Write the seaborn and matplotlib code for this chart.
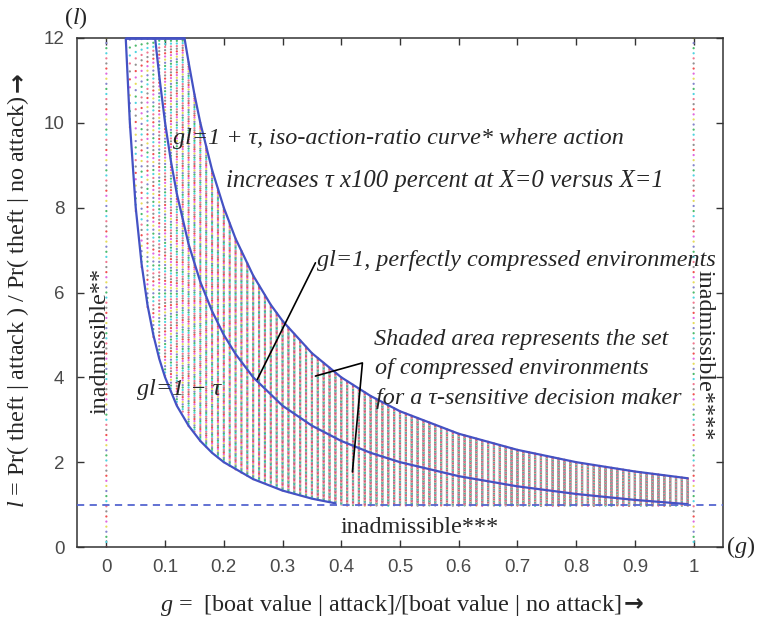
import numpy as np
import pandas as pd
import matplotlib
matplotlib.use("Agg")
import matplotlib.pyplot as plt
import seaborn as sns

# ---------------- data ----------------
tau = 0.6
# lower curve gl = 1 - tau
g_low = [0.033, 0.04, 0.05, 0.06, 0.07, 0.08, 0.09, 0.10, 0.12, 0.14, 0.16, 0.18, 0.20, 0.25, 0.30, 0.35, 0.39]
l_low = [12.0, 10.0, 8.0, 6.67, 5.71, 5.0, 4.44, 4.0, 3.33, 2.86, 2.5, 2.22, 2.0, 1.6, 1.33, 1.14, 1.03]
# middle curve gl = 1
g_mid = [0.083, 0.09, 0.10, 0.11, 0.12, 0.14, 0.16, 0.18, 0.20, 0.22, 0.25, 0.30, 0.35, 0.40, 0.45, 0.50, 0.60, 0.70, 0.80, 0.90, 0.99]
l_mid = [12.0, 11.11, 10.0, 9.09, 8.33, 7.14, 6.25, 5.56, 5.0, 4.55, 4.0, 3.33, 2.86, 2.5, 2.22, 2.0, 1.67, 1.43, 1.25, 1.11, 1.01]
# upper curve gl = 1 + tau
g_up = [0.133, 0.14, 0.15, 0.16, 0.18, 0.20, 0.22, 0.25, 0.28, 0.30, 0.35, 0.40, 0.45, 0.50, 0.60, 0.70, 0.80, 0.90, 0.99]
l_up = [12.0, 11.43, 10.67, 10.0, 8.89, 8.0, 7.27, 6.4, 5.71, 5.33, 4.57, 4.0, 3.56, 3.2, 2.67, 2.29, 2.0, 1.78, 1.62]

x_ticks = [0, 0.1, 0.2, 0.3, 0.4, 0.5, 0.6, 0.7, 0.8, 0.9, 1]
x_ticklabels = ["0", "0.1", "0.2", "0.3", "0.4", "0.5", "0.6", "0.7", "0.8", "0.9", "1"]
y_ticks = [0, 2, 4, 6, 8, 10, 12]
y_ticklabels = ["0", "2", "4", "6", "8", "10", "12"]
admissible_floor = 1.0
l_top = 12.0

# ---------------- style ----------------
sns.set_style("white")
plt.rcParams["font.family"] = ["Liberation Serif", "DejaVu Sans"]
plt.rcParams["mathtext.fontset"] = "custom"
plt.rcParams["mathtext.rm"] = "Liberation Serif"
plt.rcParams["mathtext.it"] = "Liberation Serif:italic"

dot_colors = ["#f07890", "#4fd4e0", "#4cba6c", "#8484cc", "#e6dc5c", "#e068e0", "#f05050", "#909090"]
curve_color = "#4452c4"

W, H = 761, 619
fig = plt.figure(figsize=(W / 100, H / 100), dpi=100)
ax = fig.add_axes([77 / W, 1 - 547 / H, (723 - 77) / W, (547 - 38) / H])

# ---------------- shading texture (dots between bounding curves) ----------------
cols = np.round(np.arange(0.04, 0.995, 0.01), 3)
n_levels = 161
px, py, pc = [], [], []
for g in cols:
    if g >= g_up[0]:
        hi_raw = np.interp(g, g_up, l_up)
    else:
        hi_raw = l_top * g_up[0] / g
    if g >= g_mid[0]:
        mid = np.interp(g, g_mid, l_mid)
    else:
        mid = hi_raw * (g_mid[0] / g_up[0])
    lo_raw = 2 * mid - hi_raw
    vals = np.linspace(lo_raw, hi_raw, n_levels)
    for k, v in enumerate(vals):
        if admissible_floor - 0.03 <= v <= l_top:
            px.append(g)
            py.append(v)
            pc.append(k % len(dot_colors))
# vertical dotted boundaries at g = 0 and g = 1
for gb in (0.0, 1.0):
    for k, v in enumerate(np.arange(0.0, 12.01, 0.12)):
        px.append(gb)
        py.append(v)
        pc.append(k % len(dot_colors))

dots = pd.DataFrame({"g": px, "l": py, "c": pc})
sns.scatterplot(data=dots, x="g", y="l", hue="c", palette=dot_colors, s=2.6,
                linewidth=0, legend=False, ax=ax, zorder=1)

# ---------------- curves ----------------
sns.lineplot(x=g_low, y=l_low, sort=False, color=curve_color, lw=1.6, ax=ax, zorder=3)
sns.lineplot(x=g_mid, y=l_mid, sort=False, color=curve_color, lw=1.6, ax=ax, zorder=3)
sns.lineplot(x=g_up, y=l_up, sort=False, color=curve_color, lw=1.6, ax=ax, zorder=3)
ax.plot([g_low[0], g_up[0]], [l_top, l_top], color=curve_color, lw=2.0, zorder=3, clip_on=False)
ax.axhline(admissible_floor, color="#5566d0", lw=1.3, ls=(0, (4, 3)), zorder=3)

# ---------------- leader lines ----------------
ax.plot([0.356, 0.257], [6.70, 3.95], color="black", lw=1.2, zorder=4)
ax.plot([0.356, 0.436, 0.419], [4.03, 4.34, 1.77], color="black", lw=1.2, zorder=4)

# ---------------- annotations ----------------
fs = 17.4


def px2data(x, y):
    return (x - 106) / 587.0, (547 - y) / 42.42


def put(x, y, s, **kw):
    gx, ly = px2data(x, y)
    kw.setdefault("fontsize", fs)
    kw.setdefault("va", "center")
    kw.setdefault("ha", "left")
    ax.text(gx, ly, s, zorder=5, **kw)


put(173, 138, "gl=1 + τ, iso-action-ratio curve* where action", style="italic")
put(663, 181, "increases τ x100 percent at X=0 versus X=1", style="italic", ha="right",
    fontsize=17.8)
put(317, 260, "gl=1, perfectly compressed environments", style="italic")
put(374, 339, "Shaded area represents the set", style="italic")
put(375, 368, "of compressed environments", style="italic")
put(376, 398, "for a τ-sensitive decision maker", style="italic")
put(137, 389, "gl=1 − τ", style="italic")
put(100, 341, "inadmissible**", rotation=90, ha="center")
put(703, 355, "inadmissible****", rotation=270, ha="center")
put(340, 527, "inadmissible***")

# ---------------- axes ----------------
ax.set_xlim(-0.05, 1.05)
ax.set_ylim(0, 12)
ax.set_xticks(x_ticks)
ax.set_xticklabels(x_ticklabels)
ax.set_yticks(y_ticks)
ax.set_yticklabels(y_ticklabels)
for lab in ax.get_xticklabels() + ax.get_yticklabels():
    lab.set_fontfamily("Liberation Sans")
    lab.set_fontsize(13.5)
    lab.set_color("#4a4a4a")
ax.tick_params(direction="in", length=5, width=1, color="#333333",
               top=True, right=True, bottom=True, left=True, pad=9)
for s in ax.spines.values():
    s.set_visible(True)
    s.set_color("#333333")
    s.set_linewidth(1.1)
ax.set_xlabel("")
ax.set_ylabel("")

fig.text(76 / W, 1 - 18 / H, "($l$)", fontsize=fs, ha="center", va="center")
fig.text(741 / W, 1 - 547 / H, "($g$)", fontsize=fs, ha="center", va="center")
fig.text(160 / W, 1 - 605 / H, "$g$ =  [boat value | attack]/[boat value | no attack]",
         fontsize=fs, ha="left", va="center")
fig.text(634 / W, 1 - 603 / H, "→", fontsize=17, family="DejaVu Sans", fontweight="bold",
         ha="center", va="center")
fig.text(18 / W, 1 - 508 / H, "$l$ = Pr( theft | attack ) / Pr( theft | no attack)",
         fontsize=fs, rotation=90, ha="center", va="bottom")
fig.text(17 / W, 1 - 82 / H, "→", fontsize=17, family="DejaVu Sans", fontweight="bold",
         rotation=90, ha="center", va="center")

fig.savefig("out.png", dpi=100)
